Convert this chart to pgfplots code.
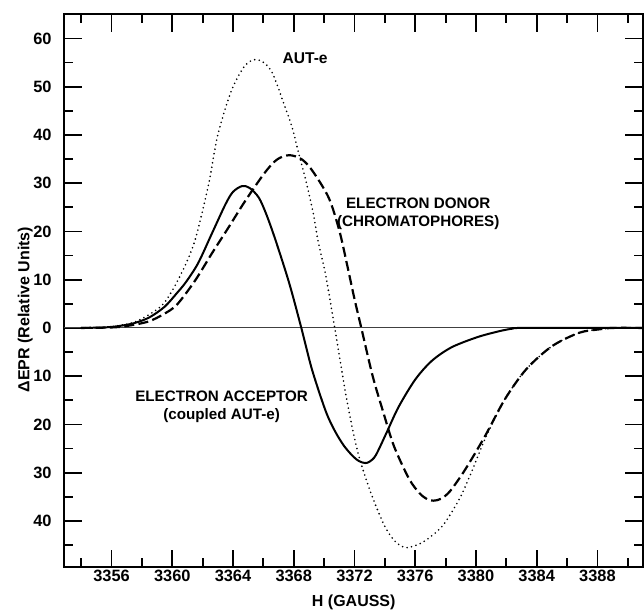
\documentclass[border=0pt]{standalone}
\usepackage{fontspec}
\setmainfont{Liberation Sans}
\usepackage{pgfplots}
\pgfplotsset{compat=1.18}
\usetikzlibrary{calc}

% electron acceptor (coupled AUT-e), solid
\pgfplotstableread{
x y
3354.0 0
3355.5 0.1
3356.5 0.4
3357.5 1.0
3358.5 2.2
3359.5 4.4
3360.3 7.2
3360.9 9.5
3361.7 13.4
3362.6 19.5
3363.5 25.6
3364.0 28.2
3364.6 29.4
3365.1 29.0
3365.7 27.0
3366.2 23.5
3366.8 18.2
3367.7 9.3
3368.5 0
3369.2 -8.6
3370.1 -17.2
3370.7 -21.3
3371.3 -24.4
3371.9 -26.6
3372.3 -27.6
3372.7 -28.0
3373.0 -27.7
3373.4 -26.4
3374.1 -21.8
3374.9 -16.4
3376.0 -10.7
3377.1 -6.8
3378.4 -4.0
3380.1 -1.9
3381.5 -0.7
3382.4 -0.15
3383.2 0
3391.0 0
}\acceptor

% electron donor (chromatophores), dashed
\pgfplotstableread{
x y
3354.0 0
3356.0 0.1
3357.0 0.4
3358.4 1.3
3359.4 2.8
3360.3 4.8
3361.5 9.8
3362.6 15.4
3363.7 20.8
3364.8 26.3
3366.1 32.2
3366.9 34.9
3367.7 35.8
3368.5 35.0
3369.2 32.7
3370.3 27.0
3371.0 20.2
3371.5 13.3
3372.0 6.0
3372.45 0
3373.2 -10.0
3373.9 -17.5
3374.6 -24.5
3375.6 -31.3
3376.3 -34.3
3376.8 -35.5
3377.2 -35.8
3377.7 -35.4
3378.3 -33.8
3379.3 -29.3
3380.6 -22.4
3381.9 -14.8
3383.3 -8.6
3385.0 -3.8
3386.8 -1.0
3388.1 -0.3
3389.0 0
3391.0 0
}\donor

% AUT-e, dotted
\pgfplotstableread{
x y
3354.0 0
3355.5 0.1
3356.5 0.5
3357.5 1.2
3358.5 2.8
3359.5 5.3
3360.6 11.3
3361.5 18.2
3362.4 29.9
3363.0 40.0
3363.9 49.2
3364.8 54.4
3365.6 55.6
3366.5 53.4
3367.4 46.0
3367.9 41.5
3368.3 36.5
3368.8 30.5
3369.3 23.5
3369.6 18.0
3370.1 11.0
3370.7 0
3371.5 -15.0
3372.2 -25.5
3373.0 -33.5
3373.9 -40.5
3374.6 -44.0
3375.3 -45.5
3376.0 -45.1
3376.7 -44.0
3377.8 -41.0
3378.9 -35.5
3379.7 -29.9
3380.6 -23.0
3381.9 -14.8
3383.3 -8.6
3385.0 -3.8
3386.8 -1.0
3388.1 -0.3
3389.0 0
}\aute

\begin{document}
\begin{tikzpicture}
\begin{axis}[name=ax, scale only axis, width=289.5pt, height=276.7pt,
  xmin=3352.9, xmax=3391.0, ymin=-49.6, ymax=65,
  axis line style={line width=1pt},
  xtick={3356,3360,...,3388}, minor xtick={3354,3358,...,3390},
  ytick={-40,-30,...,60},
  yticklabels={\textbf{40},\textbf{30},\textbf{20},\textbf{10},\textbf{0},\textbf{10},\textbf{20},\textbf{30},\textbf{40},\textbf{50},\textbf{60}},
  minor ytick={-45,-35,...,55},
  xtick pos=both, ytick pos=both, tick align=inside,
  major tick length=8.8pt, minor tick length=4.5pt,
  every tick/.style={black, line width=0.9pt},
  ticklabel style={font=\bfseries\fontsize{8.2}{9}\selectfont},
  /pgf/number format/assume math mode=true,
  /pgf/number format/1000 sep={},
  xticklabel={\textbf{\pgfmathprintnumber{\tick}}},
  xticklabel style={yshift=2pt},
  yticklabel style={xshift=-2.9pt},
  xlabel={\textbf{H (GAUSS)}}, ylabel={\textbf{ΔEPR (Relative Units)}},
  every axis x label/.style={at={(axis description cs:0.5,-0.064)}, anchor=center, font=\bfseries\fontsize{8}{9}\selectfont},
  every axis y label/.style={at={(axis description cs:-0.0676,0.466)}, anchor=center, rotate=90, font=\bfseries\fontsize{8}{9}\selectfont},
  clip=false,
]
\addplot[black!75, line width=0.5pt] coordinates {(3352.9,0) (3391.0,0)};
\addplot[black, line width=1pt, smooth, tension=0.5] table {\acceptor};
\addplot[black, line width=1.1pt, smooth, tension=0.5, dash pattern=on 5pt off 2.2pt] table {\donor};
\addplot[black, line width=0.9pt, smooth, tension=0.5, line cap=round, dash pattern=on 0pt off 2.3pt] table {\aute};
\node[font=\bfseries\fontsize{7.8}{9}\selectfont] at (axis cs:3368.75,55.9) {AUT-e};
\node[font=\bfseries\fontsize{7.6}{9}\selectfont, align=center] at (axis cs:3376.2,23.6) {ELECTRON DONOR\\(CHROMATOPHORES)};
\node[font=\bfseries\fontsize{7.6}{9}\selectfont, align=center] at (axis cs:3363.25,-16.25) {ELECTRON ACCEPTOR\\(coupled AUT-e)};
\end{axis}
\pgfresetboundingbox
\path ($(ax.south west)+(-32.25pt,-21.15pt)$) rectangle ($(ax.north east)+(0.5pt,7.15pt)$);
\end{tikzpicture}
\end{document}
